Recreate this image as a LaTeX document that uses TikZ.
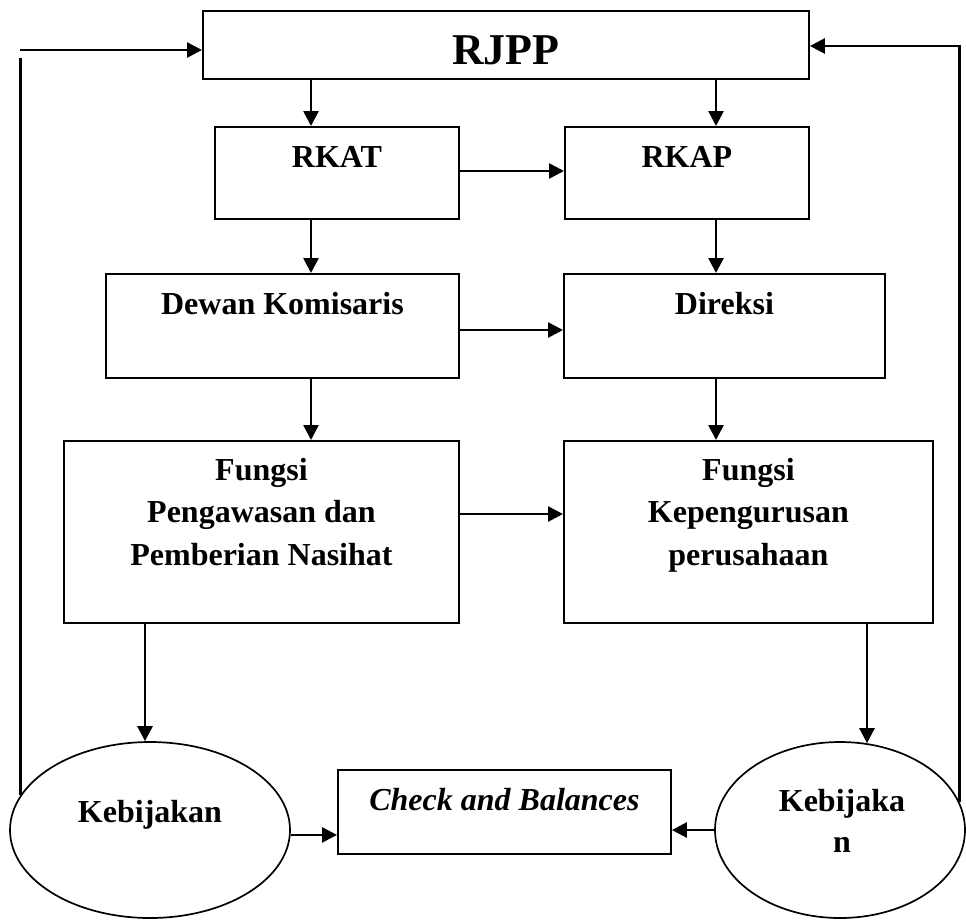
\documentclass[tikz,border=0pt]{standalone}
\usepackage{fontspec}
\setmainfont{Liberation Serif}
\usetikzlibrary{arrows.meta,shapes.geometric,calc}
\begin{document}
\begin{tikzpicture}[x=1pt,y=-1pt,
  box/.style={draw, line width=1.9pt, inner sep=0pt, anchor=north west},
  oval/.style={draw, ellipse, line width=1.7pt, inner sep=0pt},
  lbl/.style={font=\fontsize{32}{42.5}\selectfont\bfseries, align=center, anchor=base, inner sep=0pt},
  conn/.style={line width=2.6pt},
  arr/.style={line width=2.6pt, -{Triangle[length=15pt,width=15pt]}}
]
\useasboundingbox (0,0) rectangle (966,919);

% boxes
\node[box, minimum width=606pt, minimum height=68pt]  (rjpp) at (202,10)  {};
\node[box, minimum width=244pt, minimum height=92pt]  (rkat) at (214,126) {};
\node[box, minimum width=244pt, minimum height=92pt]  (rkap) at (564,126) {};
\node[box, minimum width=353pt, minimum height=104pt] (dk)   at (105,273) {};
\node[box, minimum width=321pt, minimum height=104pt] (dir)  at (563,273) {};
\node[box, minimum width=395pt, minimum height=182pt] (fp)   at (63,440)  {};
\node[box, minimum width=369pt, minimum height=182pt] (fk)   at (563,440) {};
\node[box, minimum width=333pt, minimum height=84pt]  (cb)   at (337,769) {};
\node[oval, minimum width=280pt, minimum height=176pt] (kl) at (150,830) {};
\node[oval, minimum width=250pt, minimum height=176pt] (kr) at (840,830) {};

% texts (for multi-line texts the base anchor is the last line's baseline)
\node[lbl, font=\fontsize{44}{50}\selectfont\bfseries] (trjpp) at ($(rjpp.north)+(0,54)$) {RJPP};
\node[lbl] (trkat) at ($(rkat.north)+(0,41)$) {RKAT};
\node[lbl] (trkap) at ($(rkap.north)+(0,41)$) {RKAP};
\node[lbl] (tdk)   at ($(dk.north)+(0,41)$)   {Dewan Komisaris};
\node[lbl] (tdir)  at ($(dir.north)+(0,41)$)  {Direksi};
\node[lbl] (tfp)   at ($(fp.north)+(0,125)$)  {Fungsi\\Pengawasan dan\\Pemberian Nasihat};
\node[lbl] (tfk)   at ($(fk.north)+(0,125)$)  {Fungsi\\Kepengurusan\\perusahaan};
\node[lbl, font=\fontsize{32}{42.5}\selectfont\bfseries\itshape] (tcb) at ($(cb.north)+(0,41)$) {Check and Balances};
\node[lbl] (tkl) at (150,822) {Kebijakan};
\node[lbl, font=\fontsize{32}{41}\selectfont\bfseries] (tkr) at (842,852) {Kebijaka\\n};

% vertical arrows
\draw[arr] (311,0 |- rjpp.south) -- (311,0 |- rkat.north);
\draw[arr] (716,0 |- rjpp.south) -- (716,0 |- rkap.north);
\draw[arr] (311,0 |- rkat.south) -- (311,0 |- dk.north);
\draw[arr] (716,0 |- rkap.south) -- (716,0 |- dir.north);
\draw[arr] (311,0 |- dk.south)   -- (311,0 |- fp.north);
\draw[arr] (716,0 |- dir.south)  -- (716,0 |- fk.north);
\draw[arr] (145,0 |- fp.south)   -- (145,0 |- kl.north);
\draw[arr] (867,0 |- fk.south)   -- ($(867,0 |- kr.north)+(0,2)$);

% horizontal arrows
\draw[arr] (rkat.east |- 0,171) -- (rkap.west |- 0,171);
\draw[arr] (dk.east |- 0,330)   -- (dir.west |- 0,330);
\draw[arr] (fp.east |- 0,514)   -- (fk.west |- 0,514);
\draw[arr] (kl.-2) -- (cb.west |- kl.-2);
\draw[arr] (kr.west) -- (cb.east |- kr.west);

% feedback
\draw[conn] (kl.165) -- (kl.165 |- 0,58);
\draw[arr] (kl.165 |- 0,50) -- (rjpp.west |- 0,50);
\draw[arr] (kr.13.8) -- (kr.13.8 |- 0,46) -- (rjpp.east |- 0,46);
\end{tikzpicture}
\end{document}
